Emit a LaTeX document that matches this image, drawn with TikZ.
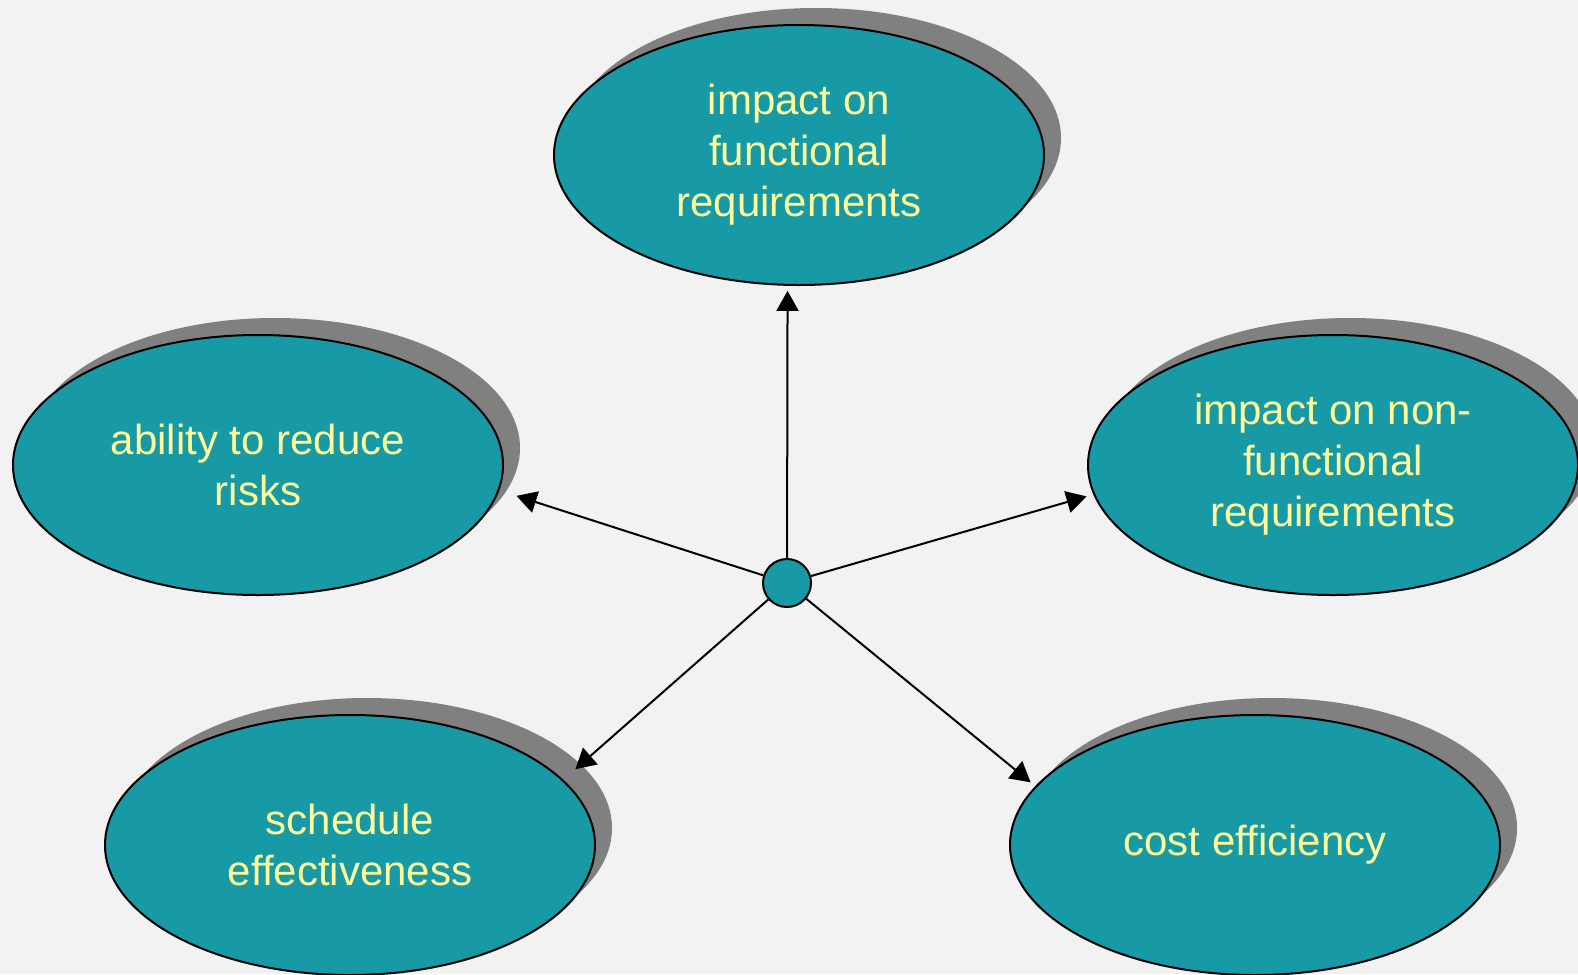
\documentclass[tikz,border=0pt]{standalone}
\usepackage{fontspec}
\setmainfont{Liberation Sans}
\usetikzlibrary{shapes.geometric,shadows,arrows.meta}
\definecolor{bgcol}{HTML}{F2F2F2}
\definecolor{tealcol}{HTML}{1799A6}
\definecolor{txtcol}{HTML}{FFFF99}
\tikzset{
    goal/.style={ellipse, draw=black, line width=2pt, fill=tealcol,
        minimum width=490pt, minimum height=260pt, inner sep=0pt,
        align=center, text=txtcol, font=\fontsize{42}{51}\selectfont,
        general shadow={fill=gray, shadow xshift=17pt, shadow yshift=17pt}},
    hub/.style={circle, draw=black, line width=2pt, fill=tealcol,
        minimum size=48pt, inner sep=0pt},
    link/.style={line width=2pt, -{Triangle[length=20pt,width=22pt]}}
}
\begin{document}
\begin{tikzpicture}[x=1pt, y=-1pt]
% Background
\fill[bgcol] (0,0) rectangle (1578,974);
\useasboundingbox (0,0) rectangle (1578,974);

% Goals
\node[goal] (func) at (799,155) {impact on\\functional\\requirements};
\node[goal] (risk) at (258,465) {ability to reduce\\risks};
\node[goal] (nonfunc) at (1333,465) {impact on non-\\functional\\requirements};
\node[goal] (sched) at (350,845) {schedule\\effectiveness};
\node[goal] (cost) at (1255,845) {cost efficiency};

% Centre
\node[hub] (c) at (787,583) {};

% Arrows
\draw[link, shorten >=5pt] (c) -- (func.-95);
\draw[link, shorten >=18pt] (c) -- (risk.-6);
\draw[link, shorten >=7pt] (c) -- (nonfunc.187);
\draw[link, shorten >=16pt] (c) -- (sched.17);
\draw[link, shorten >=6pt] (c) -- (cost.165);
\end{tikzpicture}
\end{document}
